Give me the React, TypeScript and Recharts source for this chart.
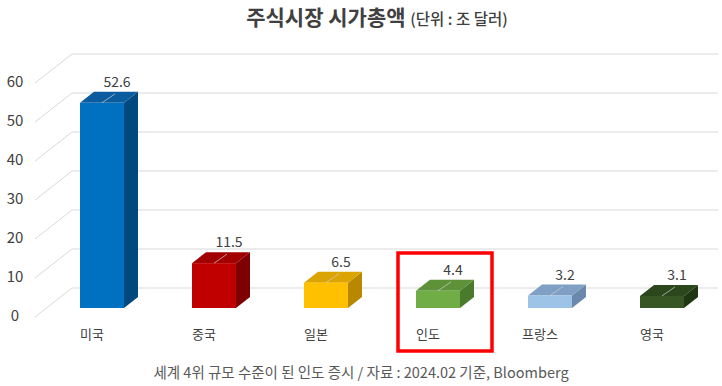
import React from "react";
import { Bar, BarChart, CartesianGrid, XAxis, YAxis } from "recharts";

const categories = ["미국", "중국", "일본", "인도", "프랑스", "영국"];
const values = [52.6, 11.5, 6.5, 4.4, 3.2, 3.1];
const yTicks = [0, 10, 20, 30, 40, 50, 60];
const frontColors = ["#0070c0", "#c00000", "#ffc000", "#70ad47", "#9dc3e6", "#375623"];
const topColors = ["#0a5c9e", "#a20000", "#dca400", "#5d9239", "#7f9fc4", "#2b471b"];
const sideColors = ["#00487e", "#7f0000", "#b88900", "#4a7a2c", "#6a88ac", "#1f3613"];
const highlighted = "인도";

const data = categories.map((name, i) => ({ name, value: values[i] }));

const FONT = "'Noto Sans CJK KR', 'Noto Sans', sans-serif";
const DX = 14;
const DY = -11;

const Bar3D = (props: any) => {
  const { x, y, width: w, height: h, index, payload } = props;
  const i = index ?? 0;
  const base = y + h;
  return (
    <g>
      {payload?.name === highlighted && (
        <rect
          x={x - 18}
          y={base - 55}
          width={94}
          height={98}
          fill="none"
          stroke="#ff0000"
          strokeWidth={3.5}
        />
      )}
      <polygon
        points={`${x + w},${y} ${x + w + DX},${y + DY} ${x + w + DX},${base + DY} ${x + w},${base}`}
        fill={sideColors[i]}
      />
      <polygon
        points={`${x},${y} ${x + w},${y} ${x + w + DX},${y + DY} ${x + DX},${y + DY}`}
        fill={topColors[i]}
      />
      <rect x={x} y={y} width={w} height={h} fill={frontColors[i]} />
      <line
        x1={x + w / 2}
        y1={y}
        x2={x + w / 2 + DX - 1}
        y2={y + DY + 2}
        stroke="#d0d0d0"
        strokeOpacity={0.7}
        strokeWidth={1}
      />
      <text
        x={x + w / 2 + DX + 1}
        y={y + DY - 5}
        textAnchor="middle"
        fontSize={14}
        fill="#404040"
        fontFamily={FONT}
      >
        {payload?.value}
      </text>
    </g>
  );
};

const GridLine = (props: any) => {
  const { x1, x2, y1 } = props;
  return (
    <g key={props.key}>
      <line x1={x1 + 26} y1={y1 - 20} x2={x2} y2={y1 - 20} stroke="#d9d9d9" strokeWidth={1} />
      <line x1={x1 - 11} y1={y1 + 9} x2={x1 + 26} y2={y1 - 20} stroke="#d9d9d9" strokeWidth={1} />
    </g>
  );
};

const YTick = (props: any) => {
  const { y, payload } = props;
  return (
    <text x={15} y={y + 13} textAnchor="middle" fontSize={15} fill="#404040" fontFamily={FONT}>
      {payload.value}
    </text>
  );
};

const XTick = (props: any) => {
  const { x, y, payload } = props;
  return (
    <text x={x - 10} y={y + 23} textAnchor="middle" fontSize={13} fill="#404040" fontFamily={FONT}>
      {payload.value}
    </text>
  );
};

export default function App() {
  return (
    <div
      style={{
        position: "absolute",
        left: 0,
        top: 0,
        width: 722,
        height: 386,
        background: "#fff",
        fontFamily: FONT,
      }}
    >
      <div
        style={{
          position: "absolute",
          top: 1,
          left: 16,
          width: 722,
          textAlign: "center",
          color: "#404040",
          whiteSpace: "nowrap",
        }}
      >
        <span style={{ fontSize: 21, fontWeight: 700 }}>주식시장 시가총액 </span>
        <span style={{ fontSize: 15.5, fontWeight: 500 }}>(단위 : 조 달러)</span>
      </div>
      <BarChart
        width={722}
        height={386}
        data={data}
        margin={{ top: 74, right: 4, bottom: 48, left: 0 }}
      >
        <CartesianGrid vertical={false} horizontal={GridLine} />
        <XAxis
          dataKey="name"
          axisLine={false}
          tickLine={false}
          tick={XTick}
          interval={0}
          height={30}
        />
        <YAxis
          domain={[0, 60]}
          ticks={yTicks}
          axisLine={false}
          tickLine={false}
          tick={YTick}
          width={46}
        />
        <Bar dataKey="value" barSize={44} shape={Bar3D} isAnimationActive={false} />
      </BarChart>
      <div
        style={{
          position: "absolute",
          top: 361,
          left: 0,
          width: 722,
          textAlign: "center",
          fontSize: 14.5,
          color: "#595959",
          whiteSpace: "nowrap",
        }}
      >
        세계 4위 규모 수준이 된 인도 증시 / 자료 : 2024.02 기준, Bloomberg
      </div>
    </div>
  );
}
